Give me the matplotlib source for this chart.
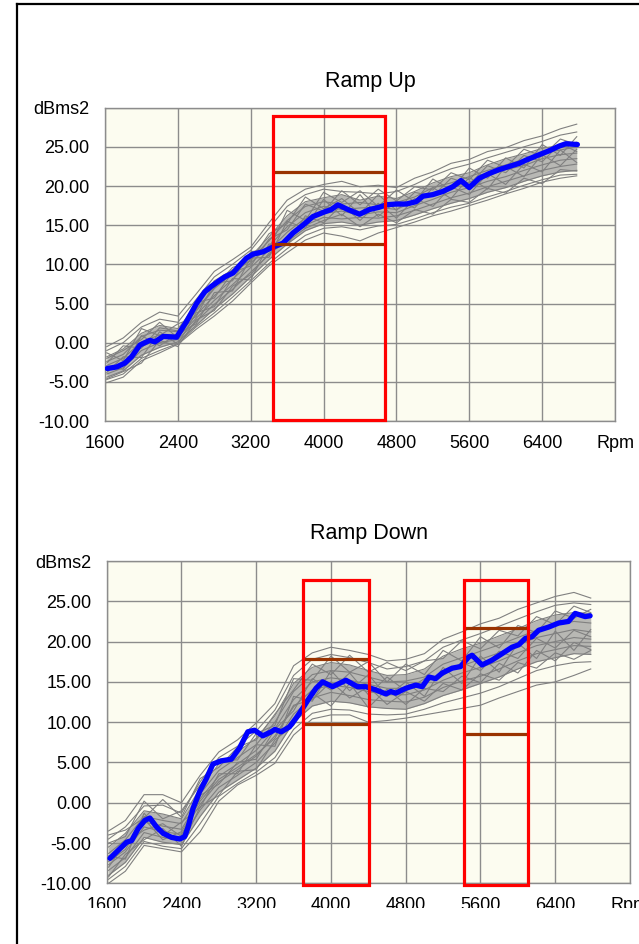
import matplotlib
matplotlib.use("Agg")
import matplotlib.pyplot as plt
from matplotlib.patches import Rectangle
from matplotlib.lines import Line2D
import numpy as np

plt.rcParams['font.family'] = ['Liberation Sans', 'DejaVu Sans']

# ---------------- data ----------------
x_ticks = [1600, 2400, 3200, 4000, 4800, 5600, 6400, 7200]
x_labels = ['1600', '2400', '3200', '4000', '4800', '5600', '6400', 'Rpm']
y_ticks = [-10, -5, 0, 5, 10, 15, 20, 25, 30]
y_labels = ['-10.00', '-5.00', '0.00', '5.00', '10.00', '15.00', '20.00', '25.00', 'dBms2']

rpm_grid = [1620, 1800, 2000, 2200, 2400, 2600, 2800, 3000, 3200, 3400, 3600, 3800, 4000, 4200,
            4400, 4600, 4800, 5000, 5200, 5400, 5600, 5800, 6000, 6200, 6400, 6600, 6780]

# Ramp Up: individual runs (gray)
up_runs = [
    [-0.5, 0.6, 2.6, 3.9, 3.4, 6.2, 9.1, 10.6, 12.2, 15.3, 18.2, 19.6, 20.2, 20.6, 19.9, 20.1, 19.8, 21.0, 21.8, 22.9, 23.4, 24.4, 24.9, 25.8, 26.4, 27.3, 27.9],
    [-1.0, 0.0, 2.0, 3.0, 2.6, 5.5, 8.4, 10.0, 11.8, 14.6, 17.4, 18.9, 19.6, 19.3, 19.2, 19.0, 19.3, 20.2, 21.3, 22.2, 22.8, 23.6, 24.3, 25.0, 25.7, 26.5, 26.9],
    [-1.8, -0.8, 1.2, 2.2, 1.8, 4.6, 7.9, 9.3, 11.0, 13.5, 16.2, 18.0, 18.5, 18.9, 18.2, 18.7, 18.4, 19.3, 20.4, 21.2, 21.7, 22.7, 23.5, 24.1, 24.8, 25.2, 25.6],
    [-2.4, -1.5, 0.8, 1.6, 1.4, 4.0, 6.9, 8.8, 10.6, 13.0, 15.6, 17.4, 18.0, 17.7, 17.9, 17.6, 17.9, 18.6, 19.8, 20.4, 21.2, 22.0, 22.7, 23.4, 24.2, 24.6, 25.0],
    [-2.9, -2.0, 0.1, 1.0, 1.0, 3.5, 6.0, 8.1, 10.2, 12.3, 14.8, 16.6, 17.4, 17.0, 17.2, 17.3, 17.0, 18.1, 19.1, 19.8, 20.5, 21.3, 22.1, 22.6, 23.5, 24.0, 24.2],
    [-3.5, -2.6, -0.5, 0.5, 0.7, 3.1, 5.4, 7.4, 9.6, 11.8, 14.1, 15.9, 16.5, 16.8, 16.3, 16.7, 16.6, 17.5, 18.3, 19.2, 19.8, 20.6, 21.2, 22.0, 22.7, 23.3, 23.5],
    [-4.0, -3.2, -1.0, 0.0, 0.4, 2.7, 4.9, 6.8, 9.0, 11.2, 13.4, 15.0, 16.0, 15.8, 16.0, 15.9, 16.2, 16.9, 17.7, 18.5, 19.1, 19.9, 20.6, 21.3, 22.0, 22.5, 22.8],
    [-4.4, -3.6, -1.6, -0.6, 0.1, 2.2, 4.3, 6.2, 8.4, 10.6, 12.6, 14.3, 15.2, 15.4, 15.0, 15.4, 15.6, 16.3, 17.1, 17.8, 18.4, 19.2, 19.8, 20.6, 21.3, 21.8, 22.0],
    [-4.7, -4.0, -2.0, -1.0, -0.1, 2.0, 3.8, 5.8, 7.9, 10.1, 12.0, 13.7, 14.6, 14.8, 14.4, 14.9, 15.1, 15.8, 16.6, 17.3, 17.8, 18.6, 19.3, 20.1, 20.8, 21.4, 21.5],
    [-5.1, -4.4, -2.3, -1.3, -0.2, 1.7, 3.4, 5.3, 7.6, 9.8, 11.5, 13.1, 14.0, 13.6, 13.0, 14.0, 14.7, 15.4, 16.2, 16.8, 17.5, 18.2, 19.0, 19.7, 20.5, 21.0, 21.3],
    [-2.0, -1.0, 0.4, 2.6, 0.6, 4.2, 7.0, 9.6, 10.4, 13.9, 15.2, 18.6, 17.1, 18.4, 16.5, 18.9, 16.9, 19.2, 18.7, 21.0, 20.2, 22.6, 21.7, 23.9, 23.1, 25.4, 24.4],
    [-3.8, -1.8, -1.9, 1.4, -0.2, 3.8, 4.6, 8.2, 8.0, 12.6, 12.4, 16.2, 15.3, 17.6, 15.6, 17.8, 15.9, 18.4, 17.4, 19.9, 18.9, 21.6, 20.2, 22.8, 21.8, 24.6, 23.0],
    [-3.0, -3.4, 0.9, -0.4, 1.2, 2.4, 6.4, 6.6, 10.8, 10.9, 15.5, 14.6, 18.3, 16.2, 18.9, 16.1, 18.1, 17.2, 19.8, 18.4, 21.1, 19.6, 22.5, 21.2, 24.0, 22.6, 24.7],
    [-1.3, -2.3, 1.8, 0.9, 2.4, 3.3, 7.6, 7.9, 11.6, 12.0, 16.9, 15.6, 19.2, 17.9, 19.4, 17.4, 19.5, 18.0, 20.9, 19.5, 22.3, 21.0, 23.6, 22.3, 25.3, 23.9, 26.3],
    [-4.6, -3.7, -2.6, 0.3, -0.5, 2.9, 4.1, 7.2, 8.7, 11.4, 12.9, 14.6, 15.6, 16.4, 14.8, 16.4, 15.3, 17.0, 16.4, 18.3, 17.9, 19.7, 19.1, 21.0, 20.3, 22.1, 21.9],
    [-2.6, -0.4, -0.7, 1.9, 1.5, 5.1, 5.7, 9.0, 9.8, 13.2, 14.4, 17.7, 16.8, 19.4, 17.6, 19.6, 18.1, 19.9, 19.5, 21.7, 20.8, 23.3, 22.4, 24.7, 23.8, 26.0, 25.3],
]

# Ramp Up: reference run (blue)
up_ref_rpm = [1625, 1728, 1819, 1892, 1984, 2093, 2148, 2239, 2386, 2495, 2605, 2696, 2769, 2842,
              2915, 3006, 3080, 3153, 3225, 3335, 3444, 3554, 3664, 3773, 3883, 4011, 4085, 4157,
              4267, 4395, 4504, 4614, 4687, 4797, 4907, 5016, 5089, 5198, 5308, 5417, 5509, 5600,
              5710, 5820, 5929, 6039, 6149, 6222, 6368, 6477, 6587, 6660, 6787]
up_ref_db = [-3.3, -3.1, -2.6, -1.8, -0.3, 0.3, 0.1, 0.8, 0.7, 2.7, 5.0, 6.5, 7.2, 7.8,
             8.4, 8.9, 9.9, 10.8, 11.3, 11.6, 12.2, 12.7, 14.0, 15.0, 16.1, 16.7, 17.0, 17.6,
             17.0, 16.4, 17.0, 17.3, 17.6, 17.7, 17.7, 18.0, 18.7, 18.9, 19.3, 19.9, 20.7, 19.8,
             21.0, 21.6, 22.1, 22.5, 22.9, 23.3, 24.0, 24.5, 25.1, 25.4, 25.3]

# Ramp Down: individual runs (gray)
down_runs = [
    [-3.5, -2.2, 1.0, 1.0, 0.0, 3.4, 6.3, 7.8, 9.9, 12.3, 17.0, 18.6, 19.3, 18.9, 18.4, 17.6, 17.8, 18.5, 20.3, 21.2, 22.2, 22.9, 24.0, 24.8, 25.6, 26.1, 25.4],
    [-4.5, -3.0, -0.4, -0.3, -1.3, 2.6, 5.6, 7.0, 8.9, 11.5, 15.8, 17.8, 18.4, 18.0, 17.4, 16.6, 16.9, 17.6, 19.3, 20.2, 21.0, 21.9, 22.8, 23.7, 24.5, 24.8, 24.6],
    [-5.5, -3.8, -1.0, -1.4, -2.0, 1.8, 4.8, 6.3, 8.0, 10.8, 14.8, 16.8, 17.4, 17.1, 16.4, 15.8, 15.9, 16.6, 18.2, 19.1, 19.8, 20.7, 21.6, 22.6, 23.3, 23.6, 23.5],
    [-6.3, -4.6, -1.7, -2.2, -2.6, 1.1, 4.0, 5.6, 7.2, 10.0, 13.8, 15.9, 16.4, 16.2, 15.6, 15.0, 15.1, 15.6, 17.2, 18.0, 18.8, 19.6, 20.5, 21.4, 22.0, 22.5, 22.3],
    [-7.0, -5.4, -2.4, -2.9, -3.3, 0.5, 3.3, 4.8, 6.5, 9.2, 12.8, 15.0, 15.5, 15.2, 14.7, 14.2, 14.2, 14.8, 16.2, 17.0, 17.8, 18.6, 19.6, 20.5, 21.0, 21.5, 21.2],
    [-7.7, -6.1, -3.0, -3.6, -3.9, -0.2, 2.6, 4.1, 5.8, 8.3, 11.9, 14.0, 14.6, 14.3, 13.8, 13.4, 13.4, 14.0, 15.2, 16.1, 16.8, 17.6, 18.6, 19.5, 20.0, 20.5, 20.3],
    [-8.4, -6.8, -3.7, -4.3, -4.6, -0.9, 1.9, 3.4, 5.0, 7.4, 11.0, 13.0, 13.7, 13.3, 12.8, 12.6, 12.5, 13.1, 14.3, 15.1, 15.7, 16.6, 17.6, 18.5, 19.0, 19.5, 19.4],
    [-9.0, -7.4, -4.3, -4.9, -5.2, -1.7, 1.3, 2.8, 4.3, 6.4, 10.0, 12.0, 12.6, 12.4, 11.9, 11.7, 11.6, 12.3, 13.3, 14.0, 14.8, 15.6, 16.6, 17.5, 18.0, 18.5, 18.4],
    [-9.5, -7.9, -4.8, -5.4, -5.7, -2.6, 0.8, 2.4, 3.8, 5.6, 9.1, 11.1, 11.6, 11.5, 11.0, 10.9, 11.0, 11.6, 12.4, 13.0, 13.6, 14.4, 15.4, 16.4, 17.0, 17.4, 17.5],
    [-10.0, -8.5, -5.3, -5.7, -6.1, -3.6, 0.2, 2.2, 3.4, 4.9, 8.4, 10.4, 10.9, 10.9, 10.0, 10.2, 10.5, 10.9, 11.3, 11.7, 12.1, 13.0, 13.8, 14.6, 15.0, 15.8, 16.6],
    [-5.0, -4.2, 0.2, -2.0, -1.0, 2.2, 5.4, 5.3, 8.6, 9.6, 15.4, 15.2, 18.2, 16.2, 17.5, 15.0, 17.2, 15.9, 18.9, 17.6, 20.6, 19.2, 22.0, 21.1, 23.8, 22.9, 24.0],
    [-8.0, -5.0, -3.4, -2.6, -4.2, 0.9, 2.3, 5.0, 5.4, 9.1, 11.4, 15.4, 14.0, 16.1, 13.4, 15.6, 13.9, 15.4, 15.8, 17.4, 16.4, 18.8, 17.9, 20.4, 19.2, 21.4, 20.6],
    [-6.6, -7.0, -1.3, -4.1, -2.4, -0.6, 3.6, 3.6, 7.2, 7.0, 13.2, 12.6, 16.4, 13.9, 15.9, 13.2, 15.0, 13.2, 16.8, 14.8, 18.2, 16.2, 19.8, 17.9, 21.3, 18.9, 21.5],
    [-9.2, -6.4, -4.6, -3.2, -5.4, -0.5, 0.9, 3.9, 4.1, 7.8, 9.6, 13.6, 12.0, 14.8, 11.8, 14.1, 12.2, 14.2, 13.8, 15.7, 14.9, 17.3, 16.1, 18.9, 17.6, 19.9, 19.0],
    [-4.0, -3.4, -1.9, 0.4, -1.8, 3.0, 4.4, 6.9, 7.8, 11.0, 14.0, 17.2, 15.9, 18.3, 16.2, 17.4, 16.4, 17.6, 17.9, 20.1, 19.1, 21.4, 20.7, 23.1, 22.1, 24.4, 23.6],
    [-7.3, -5.8, -2.0, -4.6, -3.6, 0.2, 2.9, 4.4, 6.0, 8.0, 12.1, 12.8, 15.0, 13.0, 14.4, 12.2, 13.8, 12.6, 14.8, 14.0, 16.0, 15.2, 17.4, 16.7, 18.6, 17.8, 18.9],
]

# Ramp Down: reference run (blue)
down_ref_rpm = [1635, 1724, 1813, 1867, 1937, 2008, 2062, 2133, 2204, 2293, 2382, 2435, 2471, 2524,
                2595, 2667, 2737, 2827, 2933, 3022, 3110, 3182, 3270, 3360, 3400, 3467, 3555, 3627,
                3697, 3768, 3840, 3910, 4017, 4160, 4284, 4373, 4480, 4587, 4640, 4693, 4800, 4907,
                4977, 5049, 5120, 5191, 5297, 5387, 5475, 5510, 5617, 5724, 5831, 5937, 6009, 6080,
                6151, 6222, 6329, 6436, 6542, 6613, 6720, 6773]
down_ref_db = [-6.9, -5.9, -4.9, -4.7, -3.2, -2.2, -1.9, -3.0, -3.8, -4.3, -4.5, -4.2, -3.0, -0.7,
               1.4, 3.0, 4.8, 5.2, 5.4, 6.8, 8.8, 9.0, 8.3, 8.8, 9.1, 8.8, 9.4, 10.5,
               11.7, 13.0, 14.2, 15.0, 14.4, 15.2, 14.4, 14.4, 14.0, 13.5, 13.8, 13.6, 14.2, 14.6,
               14.4, 15.6, 15.4, 16.1, 16.7, 16.9, 18.1, 18.3, 17.1, 17.7, 18.5, 19.3, 19.6, 20.4,
               20.6, 21.4, 21.8, 22.3, 22.5, 23.5, 23.1, 23.2]

# Analysis windows: (rpm_start, rpm_end, low_limit, high_limit)
up_windows = [(3440, 4670, 12.6, 21.8)]
down_windows = [(3705, 4410, 9.8, 17.8), (5420, 6105, 8.5, 21.7)]
up_box_db = (-9.9, 29.0)
down_box_db = (-10.2, 27.6)

# ---------------- drawing ----------------
fig = plt.figure(figsize=(6.39, 9.44), dpi=100)
W, H = 639.0, 944.0

ax1 = fig.add_axes([105 / W, 1 - 421 / H, 510 / W, 313.3 / H])
ax2 = fig.add_axes([106.7 / W, 1 - 883.3 / H, 523.3 / W, 322.3 / H])

BG = '#FCFCF0'
GRID = '#8c8c8c'


def style(ax):
    ax.set_facecolor(BG)
    ax.set_xlim(1600, 7200)
    ax.set_ylim(-10, 30)
    ax.set_xticks(x_ticks)
    ax.set_xticklabels(x_labels)
    ax.set_yticks(y_ticks)
    ax.set_yticklabels(y_labels)
    ax.tick_params(length=0, labelsize=13, colors='black')
    ax.tick_params(axis='y', pad=11)
    ax.tick_params(axis='x', pad=10)
    ax.grid(True, color=GRID, lw=1.0)
    ax.set_axisbelow(True)
    for s in ax.spines.values():
        s.set_color(GRID)
        s.set_linewidth(1.0)


def draw(ax, runs, ref_x, ref_y, windows, box_db):
    style(ax)
    arr = np.array(runs[:10])
    ax.fill_between(rpm_grid, arr[2], arr[7], color='#8c8c8c', alpha=0.6, lw=0, zorder=2)
    for r in runs:
        ax.plot(rpm_grid, r, color='#808080', lw=0.8, zorder=3)
    ax.plot(ref_x, ref_y, color='#0000FF', lw=3.8, solid_capstyle='round',
            solid_joinstyle='round', zorder=4)
    for (x0, x1, lo, hi) in windows:
        ax.add_patch(Rectangle((x0, box_db[0]), x1 - x0, box_db[1] - box_db[0],
                               fill=False, edgecolor='#FF0000', lw=2.3, zorder=6,
                               clip_on=False))
        ax.plot([x0, x1], [hi, hi], color='#993300', lw=2.3, zorder=5,
                solid_capstyle='butt')
        ax.plot([x0, x1], [lo, lo], color='#993300', lw=2.3, zorder=5,
                solid_capstyle='butt')


draw(ax1, up_runs, up_ref_rpm, up_ref_db, up_windows, up_box_db)
draw(ax2, down_runs, down_ref_rpm, down_ref_db, down_windows, down_box_db)

fig.text(370 / W, 1 - 82 / H, 'Ramp Up', ha='center', va='center', fontsize=15.5)
fig.text(368.5 / W, 1 - 534 / H, 'Ramp Down', ha='center', va='center', fontsize=15.5)

# bottom clipping of the chart object
fig.add_artist(Rectangle((18 / W, 0), 1, 36 / H, transform=fig.transFigure,
                         facecolor='white', edgecolor='none', zorder=20))

# frame border (left and top)
fig.add_artist(Line2D([16.5 / W, 16.5 / W], [0, 1 - 3.5 / H], transform=fig.transFigure,
                      color='black', lw=1.6, zorder=21))
fig.add_artist(Line2D([16.5 / W, 1], [1 - 3.5 / H, 1 - 3.5 / H], transform=fig.transFigure,
                      color='black', lw=1.6, zorder=21))

fig.savefig('out.png', dpi=100, facecolor='white')
